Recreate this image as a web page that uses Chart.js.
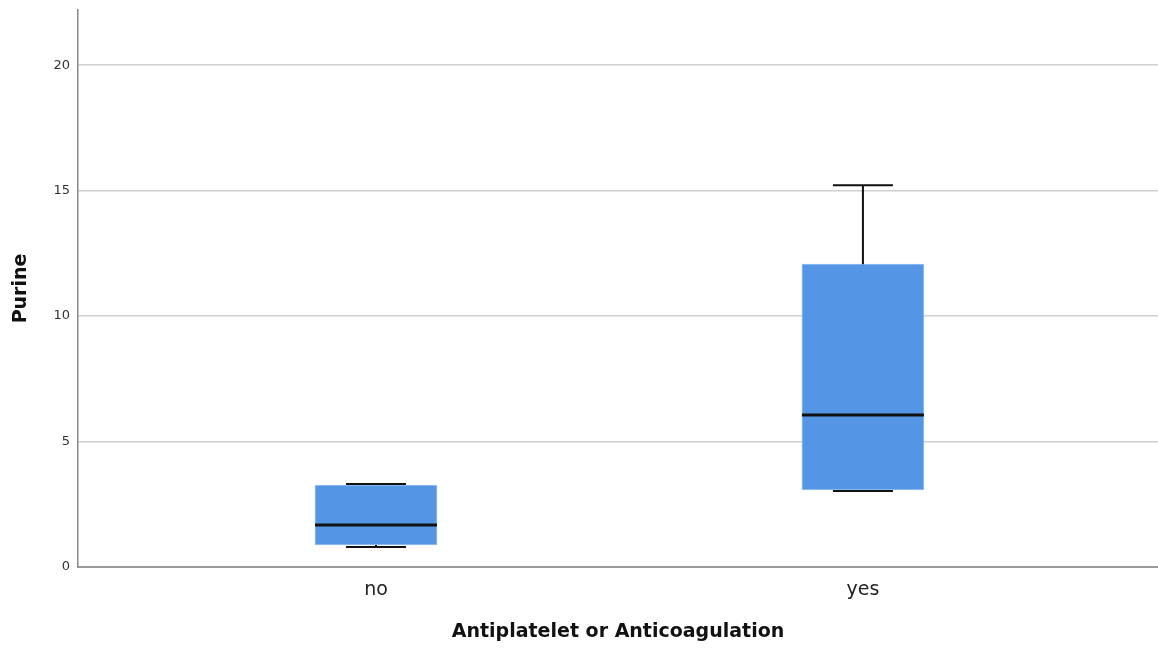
<!DOCTYPE html>
<html>
<head>
<meta charset="utf-8">
<script src="https://cdn.jsdelivr.net/npm/chart.js@4/dist/chart.umd.min.js"></script>
<style>
html, body { margin: 0; padding: 0; background: #fff; }
#wrap { width: 1158px; height: 648px; }
</style>
</head>
<body>
<div id="wrap"><canvas id="myChart"></canvas></div>
<script>
// box plot values
var categories = ['no', 'yes'];
var whiskerLow = [0.80, 3.03];
var q1 = [0.88, 3.07];
var median = [1.67, 6.06];
var q3 = [3.27, 12.07];
var whiskerHigh = [3.31, 15.22];
var yTicks = [0, 5, 10, 15, 20];

var boxColor = 'rgb(84, 150, 229)';

// whiskers, caps and medians drawn through the scales
var boxExtras = {
    id: 'boxExtras',
    afterDatasetsDraw: function (chart) {
        var ctx = chart.ctx;
        var xs = chart.scales.x, ys = chart.scales.y;
        var halfBox = 61, halfCap = 30;
        ctx.save();
        for (var i = 0; i < categories.length; i++) {
            var cx = xs.getPixelForValue(i);
            ctx.strokeStyle = '#111';
            ctx.lineWidth = 2;
            ctx.beginPath();
            ctx.moveTo(cx, ys.getPixelForValue(q3[i]));
            ctx.lineTo(cx, ys.getPixelForValue(whiskerHigh[i]));
            ctx.moveTo(cx, ys.getPixelForValue(q1[i]));
            ctx.lineTo(cx, ys.getPixelForValue(whiskerLow[i]));
            ctx.moveTo(cx - halfCap, ys.getPixelForValue(whiskerHigh[i]));
            ctx.lineTo(cx + halfCap, ys.getPixelForValue(whiskerHigh[i]));
            ctx.moveTo(cx - halfCap, ys.getPixelForValue(whiskerLow[i]));
            ctx.lineTo(cx + halfCap, ys.getPixelForValue(whiskerLow[i]));
            ctx.stroke();
            ctx.lineWidth = 3;
            ctx.beginPath();
            ctx.moveTo(cx - halfBox, ys.getPixelForValue(median[i]));
            ctx.lineTo(cx + halfBox, ys.getPixelForValue(median[i]));
            ctx.stroke();
        }
        ctx.restore();
    }
};

var ctx = document.getElementById('myChart').getContext('2d');
var myChart = new Chart(ctx, {
    type: 'bar',
    data: {
        datasets: [{
            label: 'Purine',
            data: categories.map(function (c, i) { return { x: i, y: [q1[i], q3[i]] }; }),
            backgroundColor: boxColor,
            borderColor: 'rgba(130, 180, 240, 0.8)',
            borderWidth: 1,
            borderSkipped: false,
            barThickness: 122
        }]
    },
    options: {
        responsive: true,
        maintainAspectRatio: false,
        animation: false,
        layout: { padding: { top: 10, right: 0, left: 0, bottom: 0 } },
        plugins: {
            legend: { display: false },
            tooltip: { enabled: false }
        },
        scales: {
            x: {
                type: 'linear',
                offset: false,
                min: -0.612,
                max: 1.606,
                afterBuildTicks: function (scale) {
                    scale.ticks = categories.map(function (c, i) { return { value: i }; });
                },
                afterFit: function (scale) { scale.height = 81; },
                ticks: {
                    callback: function (v) { return categories[v]; },
                    font: { family: 'DejaVu Sans', size: 19 },
                    color: '#222',
                    padding: 12,
                    maxRotation: 0
                },
                grid: { display: false, drawTicks: false, offset: false },
                border: { display: true, color: '#999', width: 2 },
                title: {
                    display: true,
                    text: 'Antiplatelet or Anticoagulation',
                    font: { family: 'DejaVu Sans', size: 19, weight: 'bold' },
                    color: '#111',
                    padding: { top: 0, bottom: 5 }
                }
            },
            y: {
                min: 0,
                max: 22.2,
                afterBuildTicks: function (scale) {
                    scale.ticks = yTicks.map(function (v) { return { value: v }; });
                },
                afterFit: function (scale) {
                    scale.width = 78;
                    scale.paddingTop = 0;
                },
                ticks: {
                    font: { family: 'DejaVu Sans', size: 13 },
                    color: '#333',
                    padding: 8
                },
                grid: { color: '#cfcfcf', lineWidth: 1.5, drawTicks: false },
                border: { display: true, color: '#888', width: 1.5 },
                title: {
                    display: true,
                    text: 'Purine',
                    font: { family: 'DejaVu Sans', size: 19, weight: 'bold' },
                    color: '#111',
                    padding: { top: 10, bottom: 0 }
                }
            }
        }
    },
    plugins: [boxExtras]
});
</script>
</body>
</html>
